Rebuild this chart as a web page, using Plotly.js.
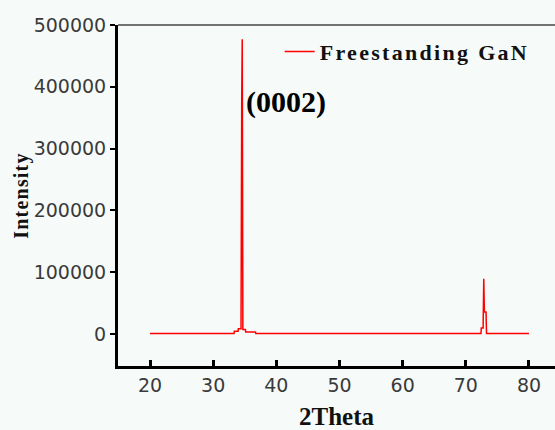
<!DOCTYPE html>
<html>
<head>
<meta charset="utf-8">
<script src="https://cdn.plot.ly/plotly-3.0.1.min.js"></script>
<style>
  html, body { margin: 0; padding: 0; background: #f6faf8; overflow: hidden; }
  .legendtext { letter-spacing: 2.3px; }
  .ytitle { letter-spacing: 1.2px; }
</style>
</head>
<body>
<div id="chart" style="width:555px;height:430px;"></div>
<script>
const twoTheta = [20, 33.30, 33.35, 33.95, 33.98, 34.41, 34.52, 34.60, 34.70, 35.10, 35.15, 36.70, 36.75,
                  72.40, 72.45, 72.74, 72.84, 72.94, 73.20, 73.28, 80];
const intensity = [500, 500, 4200, 4200, 8500, 8500, 382000, 477000, 7000, 7000, 3200, 3200, 500,
                   500, 9700, 9700, 89400, 35500, 35500, 500, 500];
const seriesName = 'Freestanding GaN';
const peakLabel = '(0002)';
const peakLabelPos = [34.95, 376000];
const xTicks = [20, 30, 40, 50, 60, 70, 80];
const yTicks = [0, 100000, 200000, 300000, 400000, 500000];
const xTitle = '2Theta';
const yTitle = 'Intensity';

const bg = '#f6faf8';
const serif = 'Liberation Serif, Times New Roman, serif';
const tickFont = {family: 'DejaVu Sans, sans-serif', size: 19, color: '#3a3a3a'};

const trace = {
  x: twoTheta, y: intensity, type: 'scatter', mode: 'lines',
  name: seriesName, line: {color: '#ff0000', width: 1.5}
};

const layout = {
  width: 555, height: 430,
  margin: {l: 118, r: 0, t: 25, b: 64, pad: 0},
  paper_bgcolor: bg, plot_bgcolor: bg,
  showlegend: true,
  legend: {x: 0.37, y: 0.983, xanchor: 'left', yanchor: 'top', bgcolor: 'rgba(0,0,0,0)',
           font: {family: serif, size: 22, weight: 700, color: '#111'}},
  xaxis: {
    range: [14.93, 84.12], tickvals: xTicks, ticktext: xTicks.map(String),
    showline: true, linecolor: '#000', linewidth: 3,
    ticks: 'inside', ticklen: 6, tickwidth: 3, tickcolor: '#000',
    showgrid: false, zeroline: false, tickfont: tickFont,
    title: {text: xTitle, standoff: 13, font: {family: serif, size: 25, weight: 700, color: '#111'}}
  },
  yaxis: {
    range: [-52000, 500000], tickvals: yTicks, ticktext: yTicks.map(String),
    showline: true, linecolor: '#000', linewidth: 3,
    ticks: 'outside', ticklen: 5, tickwidth: 2, tickcolor: '#000',
    showgrid: false, zeroline: false, tickfont: tickFont,
    title: {text: yTitle, standoff: 0, font: {family: serif, size: 20, weight: 700, color: '#111'}}
  },
  shapes: [{type: 'line', xref: 'paper', yref: 'paper', x0: 0, x1: 1, y0: 1, y1: 1,
            line: {color: '#444', width: 1.5}}],
  annotations: [{x: peakLabelPos[0], y: peakLabelPos[1], xref: 'x', yref: 'y', text: peakLabel,
                 showarrow: false, xanchor: 'left', yanchor: 'middle',
                 font: {family: serif, size: 30, weight: 700, color: '#000'}}]
};

Plotly.newPlot('chart', [trace], layout, {displayModeBar: false, staticPlot: true});
</script>
</body>
</html>
